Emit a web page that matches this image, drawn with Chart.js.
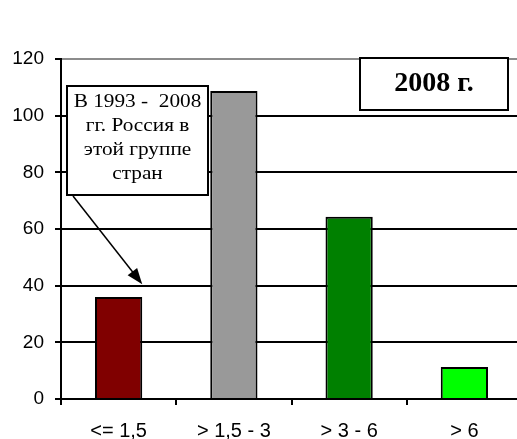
<!DOCTYPE html>
<html>
<head>
<meta charset="utf-8">
<script src="https://cdn.jsdelivr.net/npm/chart.js@4"></script>
<style>
body{margin:0;background:#fff;}
#wrap{width:517px;height:439px;overflow:hidden;}
</style>
</head>
<body>
<div id="wrap"><canvas id="c" width="522" height="439"></canvas></div>
<script>
// данные
let groups = ["<= 1,5", "> 1,5 - 3", "> 3 - 6", "> 6"];
let counts = [36, 108.7, 64.3, 11.3];
let barColors = ["#800000", "#999999", "#008000", "#00ff00"];
let yTicks = [0, 20, 40, 60, 80, 100, 120];
let noteLines = ["В 1993 -  2008", "гг. Россия в", "этой группе", "стран"];
let yearLabel = "2008 г.";

// надписи и стрелка поверх графика
let notes = {
    id: "notes",
    afterDraw(ch){
        let c = ch.ctx;
        let y = ch.scales.y;
        c.save();
        // стрелка к первому столбцу
        let meta = ch.getDatasetMeta(0).data[0];
        let tx = meta.x + meta.width/2, ty = y.getPixelForValue(40.5);
        let sx = 73, sy = 196;
        c.strokeStyle = "#000"; c.fillStyle = "#000"; c.lineWidth = 1.5;
        let ang = Math.atan2(ty-sy, tx-sx);
        c.beginPath(); c.moveTo(sx, sy);
        c.lineTo(tx - 12*Math.cos(ang), ty - 12*Math.sin(ang)); c.stroke();
        c.beginPath(); c.moveTo(tx, ty);
        c.lineTo(tx - 16*Math.cos(ang) + 6*Math.sin(ang), ty - 16*Math.sin(ang) - 6*Math.cos(ang));
        c.lineTo(tx - 16*Math.cos(ang) - 6*Math.sin(ang), ty - 16*Math.sin(ang) + 6*Math.cos(ang));
        c.closePath(); c.fill();

        // рамка с текстом
        c.fillStyle = "#fff";
        c.fillRect(67, 86, 141, 109);
        c.lineWidth = 2; c.strokeStyle = "#000";
        c.strokeRect(67, 86, 141, 109);
        c.fillStyle = "#000";
        c.font = "19px 'Liberation Serif', 'Times New Roman', serif";
        c.textAlign = "center"; c.textBaseline = "alphabetic";
        noteLines.forEach((t,i)=>{
            c.save();
            c.translate(137.5, 107 + i*24);
            c.scale(1.12, 1);
            c.fillText(t, 0, 0);
            c.restore();
        });

        // год
        c.fillStyle = "#fff";
        c.fillRect(360, 58, 148, 52);
        c.strokeRect(360, 58, 148, 52);
        c.fillStyle = "#000";
        c.font = "bold 28px 'Liberation Serif', 'Times New Roman', serif";
        c.fillText(yearLabel, 434, 91);
        c.restore();
    }
};

let ctx = document.getElementById("c").getContext("2d");
let chart = new Chart(ctx, {
    type: "bar",
    data: {
        labels: groups,
        datasets: [{
            data: counts,
            backgroundColor: barColors,
            borderColor: "#000",
            borderWidth: 2,
            barPercentage: 0.41,
            categoryPercentage: 1
        }]
    },
    options: {
        responsive: false,
        animation: false,
        layout: {padding: {top: 59, left: 0, right: 0, bottom: 0}},
        plugins: {legend: {display: false}, tooltip: {enabled: false}},
        scales: {
            x: {
                afterFit(s){ s.height = 40; },
                grid: {drawOnChartArea: false, drawTicks: true, tickLength: 6, color: "#000", lineWidth: 2},
                border: {color: "#000", width: 2},
                ticks: {color: "#000", padding: 14, font: {family: "'Liberation Sans', Arial", size: 20}}
            },
            y: {
                min: 0, max: 120,
                afterFit(s){ s.width = 61; },
                afterBuildTicks(s){ s.ticks = yTicks.map(v=>({value: v})); },
                grid: {
                    color: c => c.tick && c.tick.value === 120 ? "#8c8c8c" : "#000",
                    tickColor: "#000",
                    lineWidth: 2,
                    tickLength: 6
                },
                border: {color: "#000", width: 2},
                ticks: {color: "#000", padding: 11, font: {family: "'Liberation Sans', Arial", size: 19}}
            }
        }
    },
    plugins: [notes]
});
</script>
</body>
</html>
